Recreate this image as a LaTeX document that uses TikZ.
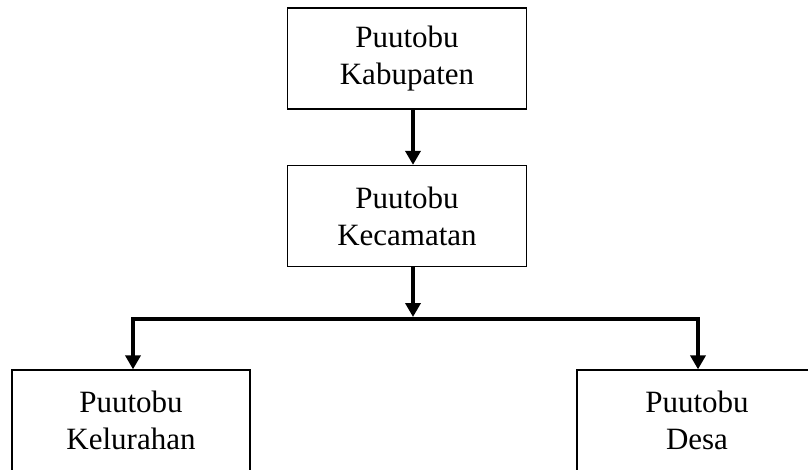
\documentclass[tikz,border=0pt]{standalone}
\usepackage{fontspec}
\setmainfont{Liberation Serif}
\usetikzlibrary{arrows.meta}
\begin{document}
\begin{tikzpicture}[x=1pt,y=-1pt,
  box/.style={draw=black,line width=1.3pt,minimum width=239pt,minimum height=101pt,
    align=center,inner sep=0pt,font=\fontsize{31}{37}\selectfont},
  arr/.style={line width=3.6pt,-{Triangle[width=15pt,length=14pt]}},
  conn/.style={line width=3.6pt}]
\useasboundingbox (0,0) rectangle (808,470);
\fill[white] (0,0) rectangle (808,470);
\node[box] (top) at (407,58.5) {Puutobu\\Kabupaten};
\node[box] (mid) at (407,216) {Puutobu\\Kecamatan};
\node[box,minimum width=238pt] (left) at (131,420.5) {Puutobu\\Kelurahan};
\node[box,minimum width=240pt] (right) at (697,420.5) {Puutobu\\Desa};
\coordinate (j) at (413,319);
\draw[arr] ([xshift=6pt]top.south) -- ([xshift=6pt]mid.north);
\draw[arr,shorten >=2pt] ([xshift=6pt]mid.south) -- (j);
\draw[line width=3.6pt,line join=miter,{Triangle[width=15pt,length=14pt]}-{Triangle[width=15pt,length=14pt]}]
  ([xshift=2pt]left.north) |- (j) -| ([xshift=1pt]right.north);
\end{tikzpicture}
\end{document}
